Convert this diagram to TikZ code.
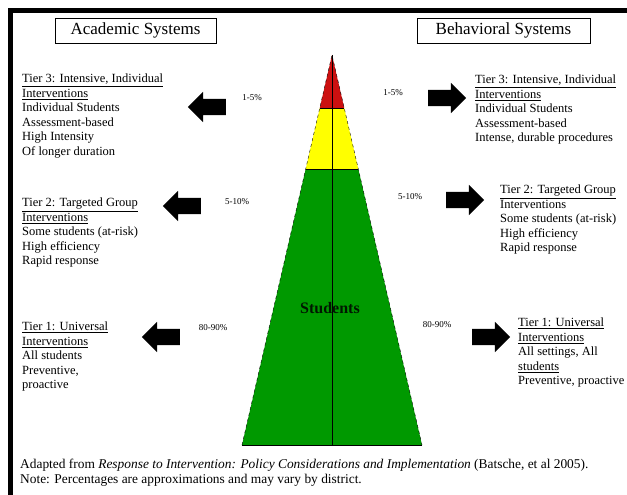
\documentclass[tikz,border=0pt]{standalone}
\usepackage{fontspec}
\setmainfont{Liberation Serif}
\usetikzlibrary{shapes,arrows,positioning,calc}
\definecolor{tierred}{RGB}{204, 16, 16}
\definecolor{tieryellow}{RGB}{255, 255, 0}
\definecolor{tiergreen}{RGB}{0, 153, 0}

\begin{document}
\begin{tikzpicture}[x=1pt, y=-1pt,
    header/.style={rectangle, draw, line width=0.8pt, minimum height=25pt, font=\fontsize{17}{19}\selectfont},
    tiertext/.style={anchor=north west, inner sep=0pt, align=left, font=\fontsize{12.5}{14.5}\selectfont},
    pct/.style={inner sep=0pt, font=\fontsize{9}{10}\selectfont},
    blockarrow/.style={single arrow, fill=black, inner sep=8pt, single arrow head extend=7pt, minimum height=38pt}
]
    \useasboundingbox (0,0) rectangle (627,495);
    \clip (0,0) rectangle (627,495);

    % Frame
    \draw[line width=5pt] (10.5,495) -- (10.5,10.5) -- (627,10.5);

    % Headers
    \node[header, minimum width=161pt] (academic) at (135.5, 30.5) {Academic Systems};
    \node[header, minimum width=173pt] (behavioral) at (503.5, 30.5) {Behavioral Systems};

    % Triangle
    \coordinate (apex) at (332, 55);
    \coordinate (bl) at (242, 445);
    \coordinate (br) at (422, 445);
    \coordinate (red-l) at ($(apex)!0.136!(bl)$);
    \coordinate (red-r) at ($(apex)!0.136!(br)$);
    \coordinate (yel-l) at ($(apex)!0.292!(bl)$);
    \coordinate (yel-r) at ($(apex)!0.292!(br)$);
    \coordinate (base) at ($(bl)!0.5!(br)$);

    \fill[tiergreen] (yel-l) -- (yel-r) -- (br) -- (bl) -- cycle;
    \fill[tieryellow] (red-l) -- (red-r) -- (yel-r) -- (yel-l) -- cycle;
    \fill[tierred] (apex) -- (red-r) -- (red-l) -- cycle;
    \draw[dashed] (bl) -- (apex) -- (br);
    \draw (red-l) -- (red-r);
    \draw (yel-l) -- (yel-r);
    \draw (bl) -- (br);
    \draw (apex) -- (base);
    \node[font=\fontsize{16}{18}\selectfont\bfseries, text=black!85!tiergreen] (students) at (330, 308) {Students};

    % Percentages
    \node[pct] (pct-l3) at (252, 98) {1-5\%};
    \node[pct] (pct-r3) at (393, 93) {1-5\%};
    \node[pct] (pct-l2) at (237, 202) {5-10\%};
    \node[pct] (pct-r2) at (410, 197) {5-10\%};
    \node[pct] (pct-l1) at (213, 328) {80-90\%};
    \node[pct] (pct-r1) at (437, 325) {80-90\%};

    % Block arrows
    \node[blockarrow, shape border rotate=180] (arr-l3) at (211, 107) {};
    \node[blockarrow, shape border rotate=180] (arr-l2) at (186, 206) {};
    \node[blockarrow, shape border rotate=180] (arr-l1) at (165, 337) {};
    \node[blockarrow] (arr-r3) at (443, 98) {};
    \node[blockarrow] (arr-r2) at (461, 200) {};
    \node[blockarrow] (arr-r1) at (487, 337) {};

    % Academic tiers
    \node[tiertext] (acad3) at (22, 74) {\underline{Tier 3: Intensive, Individual}\\\underline{Interventions}\\Individual Students\\Assessment-based\\High Intensity\\Of longer duration};
    \node[tiertext] (acad2) at (22, 198) {\underline{Tier 2: Targeted Group}\\\underline{Interventions}\\Some students (at-risk)\\High efficiency\\Rapid response};
    \node[tiertext] (acad1) at (22, 322) {\underline{Tier 1: Universal}\\\underline{Interventions}\\All students\\Preventive,\\proactive};

    % Behavioral tiers
    \node[tiertext] (behav3) at (475, 75) {\underline{Tier 3: Intensive, Individual}\\\underline{Interventions}\\Individual Students\\Assessment-based\\Intense, durable procedures};
    \node[tiertext] (behav2) at (500, 185) {\underline{Tier 2: Targeted Group}\\Interventions\\Some students (at-risk)\\High efficiency\\Rapid response};
    \node[tiertext] (behav1) at (518, 318) {\underline{Tier 1: Universal}\\\underline{Interventions}\\All settings, All\\\underline{students}\\Preventive, proactive};

    % Source note
    \node[tiertext, font=\fontsize{13.4}{15}\selectfont] (note) at (20, 459) {Adapted from \textit{Response to Intervention: Policy Considerations and Implementation} (Batsche, et al 2005).\\Note: Percentages are approximations and may vary by district.};
\end{tikzpicture}
\end{document}
